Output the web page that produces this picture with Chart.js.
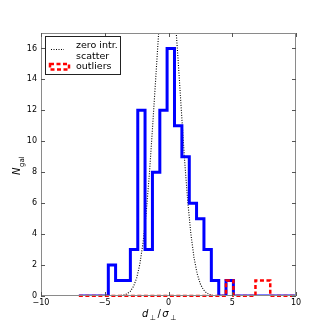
<!DOCTYPE html>
<html>
<head>
<meta charset="utf-8">
<script src="https://cdn.jsdelivr.net/npm/chart.js@4/dist/chart.umd.min.js"></script>
<style>
  body { margin: 0; background: #fff; }
  canvas { display: block; }
</style>
</head>
<body>
<canvas id="grafica" width="329" height="329"></canvas>
<script>
// bin edges of the histogram (d_perp / sigma_perp)
const binEdges = [-7.03, -6.45, -5.88, -5.30, -4.72, -4.15, -3.57, -2.99, -2.41, -1.84,
  -1.26, -0.68, -0.11, 0.47, 1.05, 1.63, 2.20, 2.78, 3.36, 3.94,
  4.51, 5.09, 5.67, 6.25, 6.82, 7.40, 7.98, 8.55, 9.13, 9.71, 10.29];
// galaxies per bin
const galCounts = [0, 0, 0, 0, 2, 1, 1, 3, 12, 3,
  8, 12, 16, 11, 9, 6, 5, 3, 1, 0,
  1, 0, 0, 0, 0, 0, 0, 0, 0, 0];
// outliers per bin
const outlierCounts = [0, 0, 0, 0, 0, 0, 0, 0, 0, 0,
  0, 0, 0, 0, 0, 0, 0, 0, 0, 0,
  1, 0, 0, 0, 1, 1, 0, 0, 0, 0];
// zero intrinsic scatter curve
const curveX = [-10, -4.5, -4.25, -4, -3.75, -3.5, -3.25, -3, -2.75, -2.5, -2.25, -2, -1.75, -1.5, -1.25,
  -1, -0.75, -0.5, -0.25, 0, 0.25, 0.5, 0.75, 1, 1.25, 1.5, 1.75, 2, 2.25, 2.5, 2.75, 3, 3.25, 3.5, 3.75, 4, 4.5, 10];
const curveY = [0, 0.001, 0.004, 0.01, 0.026, 0.062, 0.14, 0.3, 0.61, 1.15, 2.05, 3.42, 5.36, 7.88, 10.9,
  14.1, 17.3, 19.8, 21.3, 21.5, 20.5, 18.3, 15.3, 12.1, 8.92, 6.2, 4.05, 2.48, 1.43, 0.77, 0.39, 0.19, 0.085, 0.036, 0.014, 0.005, 0, 0];
const xTicks = [-10, -5, 0, 5, 10];
const yTicks = [0, 2, 4, 6, 8, 10, 12, 14, 16];

function steps(counts) {
  return binEdges.map(function(x, i) {
    return { x: x, y: i < counts.length ? counts[i] : 0 };
  });
}

const frameColor = '#8a8a8a';

const marcoPlugin = {
  id: 'marco',
  afterDatasetsDraw: function(chart) {
    const ctx = chart.ctx;
    const a = chart.chartArea;
    const xs = chart.scales.x, ys = chart.scales.y;
    ctx.save();
    ctx.strokeStyle = frameColor;
    ctx.lineWidth = 1;
    ctx.strokeRect(a.left + 0.5, a.top + 0.5, a.right - a.left - 1, a.bottom - a.top - 1);
    ctx.strokeStyle = '#555';
    ctx.beginPath();
    xTicks.forEach(function(v) {
      const px = Math.round(xs.getPixelForValue(v)) + 0.5;
      ctx.moveTo(px, a.bottom); ctx.lineTo(px, a.bottom - 4);
      ctx.moveTo(px, a.top); ctx.lineTo(px, a.top + 4);
    });
    yTicks.forEach(function(v) {
      const py = Math.round(ys.getPixelForValue(v)) + 0.5;
      ctx.moveTo(a.left, py); ctx.lineTo(a.left + 4, py);
      ctx.moveTo(a.right, py); ctx.lineTo(a.right - 4, py);
    });
    ctx.stroke();
    ctx.restore();
  },
  afterDraw: function(chart) {
    const ctx = chart.ctx;
    ctx.save();
    // legend
    ctx.fillStyle = '#fff';
    ctx.fillRect(46, 37, 75, 37);
    ctx.strokeStyle = '#222';
    ctx.lineWidth = 1;
    ctx.strokeRect(45.5, 36.5, 75, 38);
    ctx.strokeStyle = '#000';
    ctx.setLineDash([1, 1.5]);
    ctx.beginPath();
    ctx.moveTo(51, 49.5); ctx.lineTo(64, 49.5);
    ctx.stroke();
    ctx.strokeStyle = 'red';
    ctx.lineWidth = 2.5;
    ctx.setLineDash([4, 2.5]);
    ctx.strokeRect(50, 64, 19, 5.5);
    ctx.setLineDash([]);
    ctx.fillStyle = '#000';
    ctx.font = '9.5px "DejaVu Sans"';
    ctx.textBaseline = 'middle';
    ctx.fillText('zero intr.', 76, 46);
    ctx.fillText('scatter', 76, 56.5);
    ctx.fillText('outliers', 76, 67);

    // x title: d_perp / sigma_perp
    ctx.textBaseline = 'alphabetic';
    let x = 142;
    const base = 317;
    const big = 'italic 10px "DejaVu Sans"';
    const sub = '7px "DejaVu Sans"';
    [['d', big, 0], ['\u22A5', sub, 3], ['/', '10px "DejaVu Sans"', 0], ['\u03C3', big, 0], ['\u22A5', sub, 3]].forEach(function(p) {
      ctx.font = p[1];
      ctx.fillText(p[0], x, base + p[2]);
      x += ctx.measureText(p[0]).width + 1.5;
    });

    // y title: N_gal
    ctx.translate(20, 175);
    ctx.rotate(-Math.PI / 2);
    ctx.font = big;
    ctx.fillText('N', 0, 0);
    const w = ctx.measureText('N').width;
    ctx.font = sub;
    ctx.fillText('gal', w + 0.5, 3.5);
    ctx.restore();
  }
};

function minus(v) {
  return v < 0 ? '\u2212' + Math.abs(v) : String(v);
}

const graph = document.getElementById('grafica');
const histChart = new Chart(graph, {
  type: 'line',
  data: {
    datasets: [{
      label: 'outliers',
      data: steps(outlierCounts),
      stepped: true,
      borderColor: 'red',
      borderWidth: 2.5,
      borderDash: [4, 2.5],
      pointRadius: 0,
      fill: false,
      clip: { left: 0, top: 0, right: 0, bottom: 1 },
      order: 0
    }, {
      label: 'galaxies',
      data: steps(galCounts),
      stepped: true,
      borderColor: 'blue',
      borderWidth: 3,
      pointRadius: 0,
      fill: false,
      clip: 0,
      order: 1
    }, {
      label: 'zero intr. scatter',
      data: curveX.map(function(x, i) { return { x: x, y: curveY[i] }; }),
      borderColor: '#000',
      borderWidth: 1.1,
      borderDash: [1, 1.5],
      pointRadius: 0,
      tension: 0,
      fill: false,
      clip: 0,
      order: 2
    }]
  },
  options: {
    responsive: false,
    animation: false,
    events: [],
    layout: { padding: { left: 0, top: 33, right: 33, bottom: 0 } },
    plugins: {
      legend: { display: false },
      tooltip: { enabled: false }
    },
    scales: {
      x: {
        type: 'linear',
        min: -10,
        max: 10,
        afterFit: function(s) { s.height = 33; },
        afterBuildTicks: function(s) { s.ticks = xTicks.map(function(v) { return { value: v }; }); },
        grid: { display: false, drawTicks: false },
        border: { display: false },
        ticks: {
          padding: 2,
          color: '#000',
          font: { family: 'DejaVu Sans', size: 8 },
          maxRotation: 0,
          callback: minus
        }
      },
      y: {
        type: 'linear',
        min: 0,
        max: 17,
        afterFit: function(s) { s.width = 41; },
        afterBuildTicks: function(s) { s.ticks = yTicks.map(function(v) { return { value: v }; }); },
        grid: { display: false, drawTicks: false },
        border: { display: false },
        ticks: {
          padding: 4,
          color: '#000',
          font: { family: 'DejaVu Sans', size: 8 },
          callback: minus
        }
      }
    }
  },
  plugins: [marcoPlugin]
});
</script>
</body>
</html>
